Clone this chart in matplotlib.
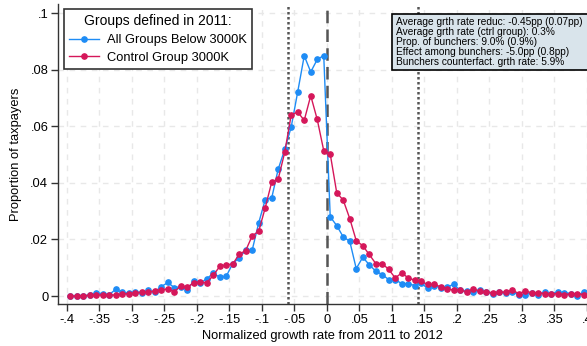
import matplotlib
matplotlib.use("Agg")
import matplotlib.pyplot as plt
from matplotlib.patches import Rectangle
import numpy as np

plt.rcParams['font.family'] = ['Liberation Sans', 'DejaVu Sans']

# bin centres of normalized growth rate
x_bins = np.round(np.arange(-0.395, 0.4, 0.01), 3)

all_groups = [
    0.0000, 0.0000, 0.0002, 0.0003, 0.0010, 0.0009, 0.0005, 0.0024, 0.0013, 0.0010,
    0.0015, 0.0012, 0.0020, 0.0015, 0.0033, 0.0048, 0.0030, 0.0033, 0.0022, 0.0054,
    0.0047, 0.0060, 0.0082, 0.0066, 0.0070, 0.0115, 0.0135, 0.0162, 0.0163, 0.0259,
    0.0341, 0.0347, 0.0449, 0.0518, 0.0598, 0.0722, 0.0849, 0.0792, 0.0836, 0.0850,
    0.0280, 0.0249, 0.0209, 0.0194, 0.0097, 0.0137, 0.0111, 0.0088, 0.0076, 0.0058,
    0.0058, 0.0044, 0.0044, 0.0037, 0.0045, 0.0027, 0.0037, 0.0030, 0.0033, 0.0041,
    0.0020, 0.0017, 0.0014, 0.0021, 0.0014, 0.0009, 0.0014, 0.0012, 0.0014, 0.0005,
    0.0005, 0.0012, 0.0005, 0.0014, 0.0009, 0.0014, 0.0012, 0.0009, 0.0002, 0.0014,
]

control = [
    0.0000, 0.0000, 0.0001, 0.0003, 0.0003, 0.0005, 0.0005, 0.0003, 0.0007, 0.0009,
    0.0011, 0.0014, 0.0014, 0.0018, 0.0022, 0.0025, 0.0015, 0.0036, 0.0032, 0.0046,
    0.0050, 0.0047, 0.0073, 0.0105, 0.0111, 0.0113, 0.0148, 0.0161, 0.0213, 0.0229,
    0.0312, 0.0403, 0.0414, 0.0508, 0.0641, 0.0650, 0.0621, 0.0708, 0.0624, 0.0514,
    0.0502, 0.0365, 0.0339, 0.0274, 0.0196, 0.0178, 0.0147, 0.0115, 0.0115, 0.0094,
    0.0064, 0.0082, 0.0064, 0.0056, 0.0052, 0.0041, 0.0041, 0.0033, 0.0026, 0.0021,
    0.0023, 0.0014, 0.0026, 0.0017, 0.0014, 0.0012, 0.0014, 0.0014, 0.0021, 0.0009,
    0.0017, 0.0012, 0.0012, 0.0009, 0.0008, 0.0009, 0.0005, 0.0008, 0.0009, 0.0005,
]

x_ticks = [-0.4, -0.35, -0.3, -0.25, -0.2, -0.15, -0.1, -0.05, 0, 0.05, 0.1, 0.15, 0.2, 0.25, 0.3, 0.35, 0.4]
x_tick_labels = ["-.4", "-.35", "-.3", "-.25", "-.2", "-.15", "-.1", "-.05", "0",
                 ".05", ".1", ".15", ".2", ".25", ".3", ".35", ".4"]
y_ticks = [0, 0.02, 0.04, 0.06, 0.08, 0.1]
y_tick_labels = ["0", ".02", ".04", ".06", ".08", ".1"]

vlines_dotted = [-0.06, 0.14]
vline_dashed = [0.0]

series_labels = ["All Groups Below 3000K", "Control Group 3000K"]
legend_title = "Groups defined in 2011:"
stats_lines = [
    "Average grth rate reduc: -0.45pp (0.07pp)",
    "Average grth rate (ctrl group): 0.3%",
    "Prop. of bunchers: 9.0% (0.9%)",
    "Effect among bunchers: -5.0pp (0.8pp)",
    "Bunchers counterfact. grth rate: 5.9%",
]

W, H = 587, 346
fig = plt.figure(figsize=(W / 100, H / 100), dpi=100)
ax = fig.add_axes([58 / W, 42 / H, 1 - 58 / W, (304 - 4) / H])

blue = '#1e8cf5'
red = '#d5175a'

ax.set_xlim(-0.4138, 0.4)
ax.set_ylim(-0.0028, 0.1032)

ax.set_xticks(x_ticks)
ax.set_xticklabels(x_tick_labels, fontsize=9.3)
ax.set_yticks(y_ticks)
ax.set_yticklabels(y_tick_labels, fontsize=9.3)
ax.tick_params(axis='both', direction='out', length=5, width=1, color='#333333', pad=2)

ax.grid(True, color='#e8e8e8', linestyle=(0, (4, 4)), linewidth=1)
ax.set_axisbelow(True)

for s in ['top', 'right']:
    ax.spines[s].set_visible(False)
for s in ['left', 'bottom']:
    ax.spines[s].set_color('#333333')
    ax.spines[s].set_linewidth(1)

for v in vlines_dotted:
    ax.axvline(v, color='#555555', linestyle=(0, (1, 1)), linewidth=1.8, zorder=1)
for v in vline_dashed:
    ax.axvline(v, color='#555555', linestyle=(0, (5, 2.5)), linewidth=1.8, zorder=1)

ax.plot(x_bins, all_groups, color=blue, marker='o', markersize=3.8, linewidth=1.0,
        label=series_labels[0], zorder=3)
ax.plot(x_bins, control, color=red, marker='o', markersize=3.8, linewidth=1.0,
        label=series_labels[1], zorder=3)

ax.set_xlabel("Normalized growth rate from 2011 to 2012", fontsize=9.3, labelpad=3)
ax.set_ylabel("Proportion of taxpayers", fontsize=9.3, labelpad=6)

leg = ax.legend(title=legend_title, loc='upper left',
                bbox_to_anchor=(64 / W, 1 - 9 / H), bbox_transform=fig.transFigure,
                borderaxespad=0, fancybox=False, edgecolor='#333333', framealpha=1,
                fontsize=9.3, title_fontsize=10, handlelength=2.3, handletextpad=0.6,
                borderpad=0.4, labelspacing=0.45)
leg.get_frame().set_linewidth(1.2)

fig.patches.append(Rectangle((392 / W, 1 - 70 / H), 200 / W, 56 / H, transform=fig.transFigure,
                             facecolor='#d9e4eb', edgecolor='black', linewidth=1.2, zorder=5))
for i, line in enumerate(stats_lines):
    fig.text(396 / W, 1 - (22 + 10 * i) / H, line, fontsize=7.3, va='center', ha='left', zorder=6)

fig.savefig('out.png', dpi=100)
